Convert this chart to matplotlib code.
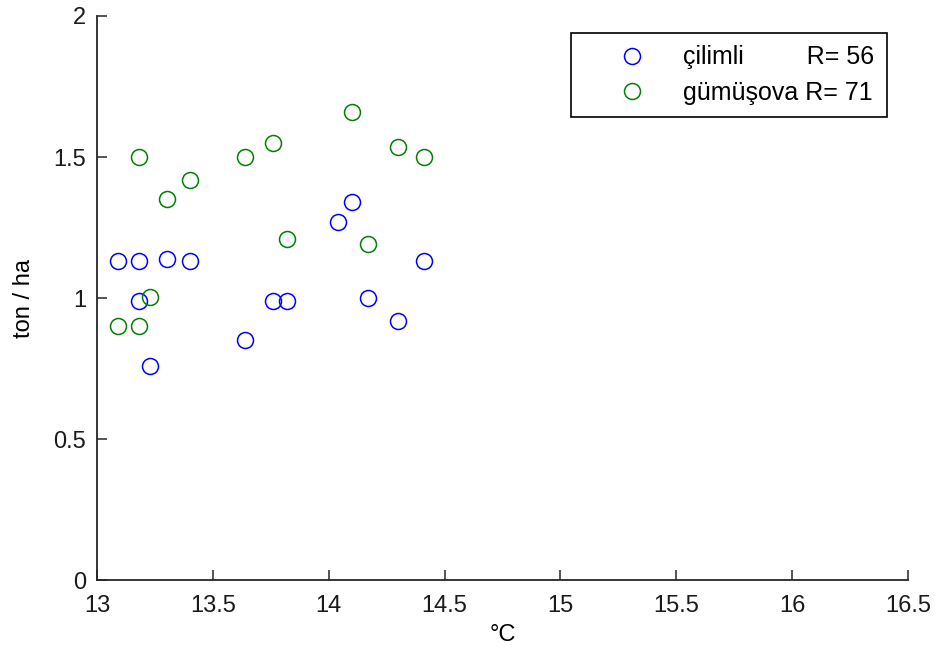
import matplotlib
matplotlib.use("Agg")
import matplotlib.pyplot as plt

matplotlib.rc('font', family=['Liberation Sans', 'DejaVu Sans'], size=17)

# çilimli
cil_temp = [13.09, 13.18, 13.18, 13.30, 13.40, 13.23, 13.64, 13.76, 13.82, 14.04, 14.10, 14.17, 14.30, 14.41]
cil_yield = [1.13, 1.13, 0.99, 1.14, 1.13, 0.76, 0.85, 0.99, 0.99, 1.27, 1.34, 1.00, 0.92, 1.13]

# gümüşova
gum_temp = [13.18, 13.09, 13.18, 13.23, 13.30, 13.40, 13.64, 13.76, 13.82, 14.10, 14.17, 14.30, 14.41]
gum_yield = [1.50, 0.90, 0.90, 1.005, 1.35, 1.42, 1.50, 1.55, 1.21, 1.66, 1.19, 1.535, 1.50]

xticks = [13, 13.5, 14, 14.5, 15, 15.5, 16, 16.5]
xticklabels = ['13', '13.5', '14', '14.5', '15', '15.5', '16', '16.5']
yticks = [0, 0.5, 1, 1.5, 2]
yticklabels = ['0', '0.5', '1', '1.5', '2']

fig = plt.figure(figsize=(9.38, 6.61), dpi=100)
ax = fig.add_axes([0.1034, 0.1225, 0.8646, 0.8533])

ax.plot(cil_temp, cil_yield, 'o', mfc='none', mec=(0, 0, 1), ms=11.5, mew=1.1,
        label='çilimli         R= 56')
ax.plot(gum_temp, gum_yield, 'o', mfc='none', mec=(0, 0.5, 0), ms=11.5, mew=1.1,
        label='gümüşova R= 71')

ax.set_xlim(13, 16.5)
ax.set_ylim(0, 2)
ax.set_xticks(xticks)
ax.set_xticklabels(xticklabels)
ax.set_yticks(yticks)
ax.set_yticklabels(yticklabels)

ax.spines['top'].set_visible(False)
ax.spines['right'].set_visible(False)
for s in ['left', 'bottom']:
    ax.spines[s].set_color('#262626')
    ax.spines[s].set_linewidth(1.3)
ax.tick_params(direction='in', length=7.5, width=1.1, colors='#262626', labelcolor='#1a1a1a')
ax.tick_params(axis='x', pad=11)
ax.tick_params(axis='y', pad=8)

ax.set_xlabel('°C', fontsize=17, labelpad=5)
ax.set_ylabel('ton / ha', fontsize=17, labelpad=13)

leg = ax.legend(loc='upper right', bbox_to_anchor=(0.974, 0.970), borderaxespad=0,
                fancybox=False, edgecolor='black', framealpha=1, fontsize=18,
                handletextpad=0.1, borderpad=0.5, labelspacing=0.45, handlelength=3.9)
leg.get_frame().set_linewidth(1.2)

plt.savefig('out.png', dpi=100)
